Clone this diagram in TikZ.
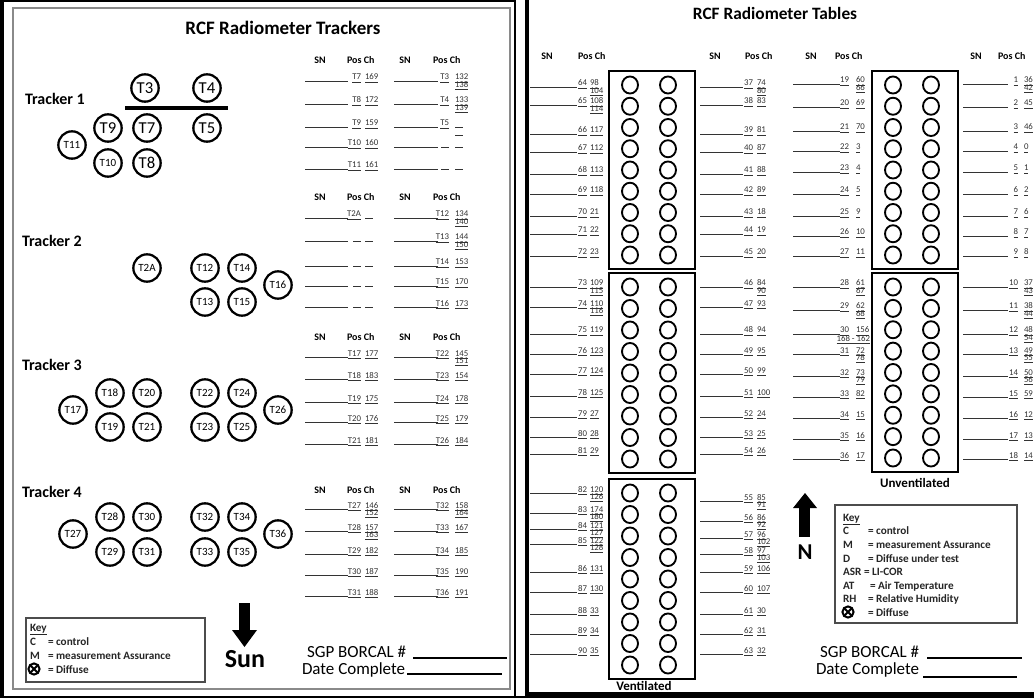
\documentclass[tikz,border=0pt]{standalone}
\usepackage{fontspec}
\setmainfont{Carlito}
\definecolor{valgray}{HTML}{333333}
\definecolor{framegray}{HTML}{8A8A8A}
\newcommand\uv[1]{\ifx-#1\rule[-1.3pt]{0.9em}{0.45pt}\else\underline{#1}\fi}
\newcommand\trow[8]{%
  \draw[blank] (#1,#5+1.5) -- (#2,#5+1.5);
  \node[val,anchor=base east] at (#3,#5) {\uv{#6}};
  \node[val,anchor=base west] at (#4,#5) {\uv{#7}};
  \ifx x#8\else\node[val,anchor=base west] at (#4,#5+7.5) {\uv{#8}};\fi}
% left tracker tables
\newcommand\lta[4]{\trow{305}{348}{361}{365}{#1}{#2}{#3}{#4}}
\newcommand\ltb[4]{\trow{394}{438}{449}{455}{#1}{#2}{#3}{#4}}
% right tables
\newcommand\rta[4]{\trow{530}{577}{587}{590}{#1}{#2}{#3}{#4}}
\newcommand\rtb[4]{\trow{700}{743}{753}{757}{#1}{#2}{#3}{#4}}
\newcommand\rtc[4]{\trow{793}{840}{849}{856}{#1}{#2}{#3}{#4}}
\newcommand\rtd[4]{\trow{963}{1008}{1018}{1024}{#1}{#2}{#3}{#4}}
\newcommand\hdrs[3]{%
  \node[hdr,anchor=base] at (#1,#3) {SN};
  \node[hdr,anchor=base west] at (#2,#3) {Pos Ch};}
\newcommand\radbox[3]{% x, top, bottom
  \draw[line width=1.6pt] (#1,#2) rectangle (#1+86,#3);
  \foreach \i in {0,...,8}{
    \draw[line width=1.4pt] (#1+21,{#2+14+\i*(#3-#2-28)/8}) ellipse [x radius=6pt, y radius=6.4pt];
    \draw[line width=1.4pt] (#1+59,{#2+14+\i*(#3-#2-28)/8}) ellipse [x radius=6pt, y radius=6.4pt];}}
\newcommand\diffsym[2]{%
  \draw[line width=1.5pt] (#1,#2) circle [radius=4.2pt];
  \draw[line width=1.5pt] (#1-3.6,#2-3.6) -- (#1+3.6,#2+3.6) (#1-3.6,#2+3.6) -- (#1+3.6,#2-3.6);}
\begin{document}
\begin{tikzpicture}[x=0.75pt,y=-0.75pt,
  every node/.style={inner sep=0pt, outer sep=0pt},
  tc/.style={circle, draw, line width=1.7pt, minimum size=20.5pt, font=\fontsize{8.25}{9}\selectfont},
  tcb/.style={tc, font=\fontsize{12.5}{13}\selectfont},
  hdr/.style={font=\bfseries\fontsize{7.5}{8}\selectfont},
  val/.style={font=\fontsize{6.6}{7}\selectfont, text=valgray},
  blank/.style={draw=valgray, line width=0.5pt},
  keytxt/.style={font=\bfseries\fontsize{8.4}{9}\selectfont, text=black!85, anchor=base west},
  big/.style={font=\fontsize{12.75}{14}\selectfont, anchor=base west},
  trk/.style={font=\bfseries\fontsize{12}{13}\selectfont, anchor=base west}]
\useasboundingbox (0,0) rectangle (1034,698);
\fill[white] (0,0) rectangle (1034,698);
% frames
\draw[line width=3pt] (2,1) -- (2,697);
\draw[line width=2pt] (0,1) -- (515,1);
\draw[line width=2pt] (0,697) -- (1034,697);
\draw[framegray, line width=1.2pt] (13,8) rectangle (510,689);
\draw[line width=1.5pt] (515,0) -- (515,698);
\draw[line width=2.4pt] (527,0) -- (527,694) -- (1034,694);
% ===== left panel =====
\node[font=\bfseries\fontsize{14.25}{16}\selectfont] (t1) at (283,28) {RCF Radiometer Trackers};
\node[trk] (tr1) at (25,105) {Tracker 1};
\node[trk] (tr2) at (22,247) {Tracker 2};
\node[trk] (tr3) at (22,370) {Tracker 3};
\node[trk] (tr4) at (22,497) {Tracker 4};
% tracker 1
\node[tcb] (T3) at (145,88) {T3};
\node[tcb] (T4) at (207,88) {T4};
\coordinate (barL) at (125,108); \coordinate (barR) at (228,108);
\draw[line width=2.4pt] (barL) -- (barR);
\node[tcb] (T9) at (108,128) {T9};
\node[tcb] (T7) at (147,128) {T7};
\node[tcb] (T5) at (207,128) {T5};
\node[tc] (T11) at (72,145) {T11};
\node[tc] (T10) at (108,163) {T10};
\node[tcb] (T8) at (147,163) {T8};
% tracker 2
\node[tc] (T2A) at (147,268) {T2A};
\node[tc] (T12) at (205,268) {T12};
\node[tc] (T14) at (242,268) {T14};
\node[tc] (T16) at (278,285) {T16};
\node[tc] (T13) at (205,302) {T13};
\node[tc] (T15) at (242,302) {T15};
% tracker 3
\node[tc] (T17) at (73,410) {T17};
\node[tc] (T18) at (110,393) {T18};
\node[tc] (T20) at (147,393) {T20};
\node[tc] (T22) at (205,393) {T22};
\node[tc] (T24) at (242,393) {T24};
\node[tc] (T26) at (278,410) {T26};
\node[tc] (T19) at (110,427) {T19};
\node[tc] (T21) at (147,427) {T21};
\node[tc] (T23) at (205,427) {T23};
\node[tc] (T25) at (242,427) {T25};
% tracker 4
\node[tc] (T27) at (73,534) {T27};
\node[tc] (T28) at (110,517) {T28};
\node[tc] (T30) at (147,517) {T30};
\node[tc] (T32) at (205,517) {T32};
\node[tc] (T34) at (242,517) {T34};
\node[tc] (T36) at (278,534) {T36};
\node[tc] (T29) at (110,552) {T29};
\node[tc] (T31) at (147,552) {T31};
\node[tc] (T33) at (205,552) {T33};
\node[tc] (T35) at (242,552) {T35};
% tables left
\hdrs{320}{347}{64}\hdrs{405}{433}{64}
\lta{80}{T7}{169}{x}\lta{103}{T8}{172}{x}\lta{126}{T9}{159}{x}\lta{146}{T10}{160}{x}\lta{168}{T11}{161}{x}
\ltb{80}{T3}{132}{138}\ltb{103}{T4}{133}{139}\ltb{126}{T5}{-}{-}\ltb{146}{-}{-}{x}\ltb{168}{-}{-}{x}
\hdrs{320}{347}{201}\hdrs{405}{433}{201}
\lta{217}{T2A}{-}{x}\lta{240}{-}{-}{x}\lta{265}{-}{-}{x}\lta{285}{-}{-}{x}\lta{306}{-}{-}{x}
\ltb{217}{T12}{134}{140}\ltb{240}{T13}{144}{150}\ltb{265}{T14}{153}{x}\ltb{285}{T15}{170}{x}\ltb{306}{T16}{173}{x}
\hdrs{320}{347}{340}\hdrs{405}{433}{340}
\lta{356}{T17}{177}{x}\lta{378}{T18}{183}{x}\lta{401}{T19}{175}{x}\lta{421}{T20}{176}{x}\lta{443}{T21}{181}{x}
\ltb{356}{T22}{145}{151}\ltb{378}{T23}{154}{x}\ltb{401}{T24}{178}{x}\ltb{421}{T25}{179}{x}\ltb{443}{T26}{184}{x}
\hdrs{320}{347}{493}\hdrs{405}{433}{493}
\lta{508}{T27}{146}{152}\lta{530}{T28}{157}{163}\lta{553}{T29}{182}{x}\lta{574}{T30}{187}{x}\lta{595}{T31}{188}{x}
\ltb{508}{T32}{158}{164}\ltb{530}{T33}{167}{x}\ltb{553}{T34}{185}{x}\ltb{574}{T35}{190}{x}\ltb{595}{T36}{191}{x}
% key left
\draw[line width=1.5pt, black!70] (26,618) rectangle (205,682);
\node[keytxt] (lk0) at (30,631) {\underline{Key}};
\node[keytxt] (lk1) at (30,645) {C};
\node[keytxt] (lk1b) at (48,645) {= control};
\node[keytxt] (lk2) at (30,659) {M};
\node[keytxt] (lk2b) at (48,659) {= measurement Assurance};
\diffsym{34}{669}
\node[keytxt] (lk3b) at (48,673) {= Diffuse};
% sun arrow
\fill (239,603) rectangle (250,633);
\fill (232,630) -- (257,630) -- (244.5,647) -- cycle;
\node[font=\bfseries\fontsize{19.5}{20}\selectfont, anchor=base] (sun) at (245,667) {Sun};
% borcal left
\node[big] (lsgp) at (307,657) {SGP BORCAL \#};
\draw[line width=0.9pt] (413,658) -- (507,658);
\node[big] (ldate) at (302,674) {Date Complete};
\draw[line width=0.9pt] (407,674) -- (502,674);
% ===== right panel =====
\node[font=\bfseries\fontsize{13}{15}\selectfont] (t2) at (775,13) {RCF Radiometer Tables};
\hdrs{547}{578}{60}\hdrs{715}{745}{60}\hdrs{811}{835}{60}\hdrs{976}{998}{60}
\radbox{609}{71}{269}
\radbox{609}{273}{473}
\radbox{609}{479}{679}
\radbox{872}{71}{269}
\radbox{872}{273}{472}
% col A
\rta{86}{64}{98}{104}\rta{104}{65}{108}{114}\rta{133}{66}{117}{x}\rta{151}{67}{112}{x}\rta{173}{68}{113}{x}
\rta{193}{69}{118}{x}\rta{215}{70}{21}{x}\rta{233}{71}{22}{x}\rta{255}{72}{23}{x}
\rta{286}{73}{109}{115}\rta{306}{74}{110}{116}\rta{333}{75}{119}{x}\rta{353}{76}{123}{x}\rta{373}{77}{124}{x}
\rta{395}{78}{125}{x}\rta{416}{79}{27}{x}\rta{436}{80}{28}{x}\rta{453}{81}{29}{x}
\rta{492}{82}{120}{126}\rta{512}{83}{174}{180}\rta{528}{84}{121}{127}\rta{543}{85}{122}{128}\rta{571}{86}{131}{x}
\rta{591}{87}{130}{x}\rta{613}{88}{33}{x}\rta{633}{89}{34}{x}\rta{653}{90}{35}{x}
% col B
\rtb{86}{37}{74}{80}\rtb{104}{38}{83}{x}\rtb{133}{39}{81}{x}\rtb{151}{40}{87}{x}\rtb{173}{41}{88}{x}
\rtb{193}{42}{89}{x}\rtb{215}{43}{18}{x}\rtb{233}{44}{19}{x}\rtb{255}{45}{20}{x}
\rtb{286}{46}{84}{90}\rtb{306}{47}{93}{x}\rtb{333}{48}{94}{x}\rtb{353}{49}{95}{x}\rtb{373}{50}{99}{x}
\rtb{395}{51}{100}{x}\rtb{416}{52}{24}{x}\rtb{436}{53}{25}{x}\rtb{453}{54}{26}{x}
\rtb{500}{55}{85}{91}\rtb{520}{56}{86}{92}\rtb{537}{57}{96}{102}\rtb{553}{58}{97}{103}\rtb{571}{59}{106}{x}
\rtb{591}{60}{107}{x}\rtb{613}{61}{30}{x}\rtb{633}{62}{31}{x}\rtb{653}{63}{32}{x}
% col C
\rtc{83}{19}{60}{66}\rtc{106}{20}{69}{x}\rtc{130}{21}{70}{x}\rtc{150}{22}{3}{x}\rtc{171}{23}{4}{x}
\rtc{193}{24}{5}{x}\rtc{215}{25}{9}{x}\rtc{235}{26}{10}{x}\rtc{255}{27}{11}{x}
\rtc{286}{28}{61}{67}\rtc{309}{29}{62}{68}\rtc{333}{30}{156}{x}\rtc{353}{31}{72}{78}\rtc{375}{32}{73}{79}
\rtc{396}{33}{82}{x}\rtc{417}{34}{15}{x}\rtc{438}{35}{16}{x}\rtc{458}{36}{17}{x}
\node[val,anchor=base east] (c30b) at (870,341) {\underline{168 - 162}};
% col D
\rtd{83}{1}{36}{42}\rtd{106}{2}{45}{x}\rtd{130}{3}{46}{x}\rtd{150}{4}{0}{x}\rtd{171}{5}{1}{x}
\rtd{193}{6}{2}{x}\rtd{215}{7}{6}{x}\rtd{235}{8}{7}{x}\rtd{255}{9}{8}{x}
\rtd{286}{10}{37}{43}\rtd{309}{11}{38}{44}\rtd{333}{12}{48}{54}\rtd{353}{13}{49}{55}\rtd{375}{14}{50}{56}
\rtd{396}{15}{59}{x}\rtd{417}{16}{12}{x}\rtd{438}{17}{13}{x}\rtd{458}{18}{14}{x}
\node[font=\bfseries\fontsize{9.75}{11}\selectfont] (vent) at (644,686) {Ventilated};
\node[font=\bfseries\fontsize{9.75}{11}\selectfont] (unvent) at (915,483) {Unventilated};
% north arrow
\fill (799,505) rectangle (810,537);
\fill (793,508) -- (817,508) -- (805,493) -- cycle;
\node[font=\bfseries\fontsize{17}{18}\selectfont] (north) at (805,552) {N};
% key right
\draw[line width=1.5pt, black!70] (835,505) rectangle (1017,623);
\node[keytxt] (rk0) at (843,521) {\underline{Key}};
\node[keytxt] (rk1) at (843,534) {C}; \node[keytxt] (rk1b) at (868,534) {= control};
\node[keytxt] (rk2) at (843,548) {M}; \node[keytxt] (rk2b) at (868,548) {= measurement Assurance};
\node[keytxt] (rk3) at (843,562) {D}; \node[keytxt] (rk3b) at (868,562) {= Diffuse under test};
\node[keytxt] (rk4) at (843,575) {ASR}; \node[keytxt] (rk4b) at (864,575) {= LI-COR};
\node[keytxt] (rk5) at (843,589) {AT}; \node[keytxt] (rk5b) at (870,589) {= Air Temperature};
\node[keytxt] (rk6) at (843,602) {RH}; \node[keytxt] (rk6b) at (868,602) {= Relative Humidity};
\diffsym{848}{612}
\node[keytxt] (rk7b) at (868,616) {= Diffuse};
% borcal right
\node[big] (rsgp) at (820,657) {SGP BORCAL \#};
\draw[line width=0.9pt] (927,658) -- (1022,658);
\node[big] (rdate) at (816,674) {Date Complete};
\draw[line width=0.9pt] (923,677) -- (1017,677);
\end{tikzpicture}
\end{document}
